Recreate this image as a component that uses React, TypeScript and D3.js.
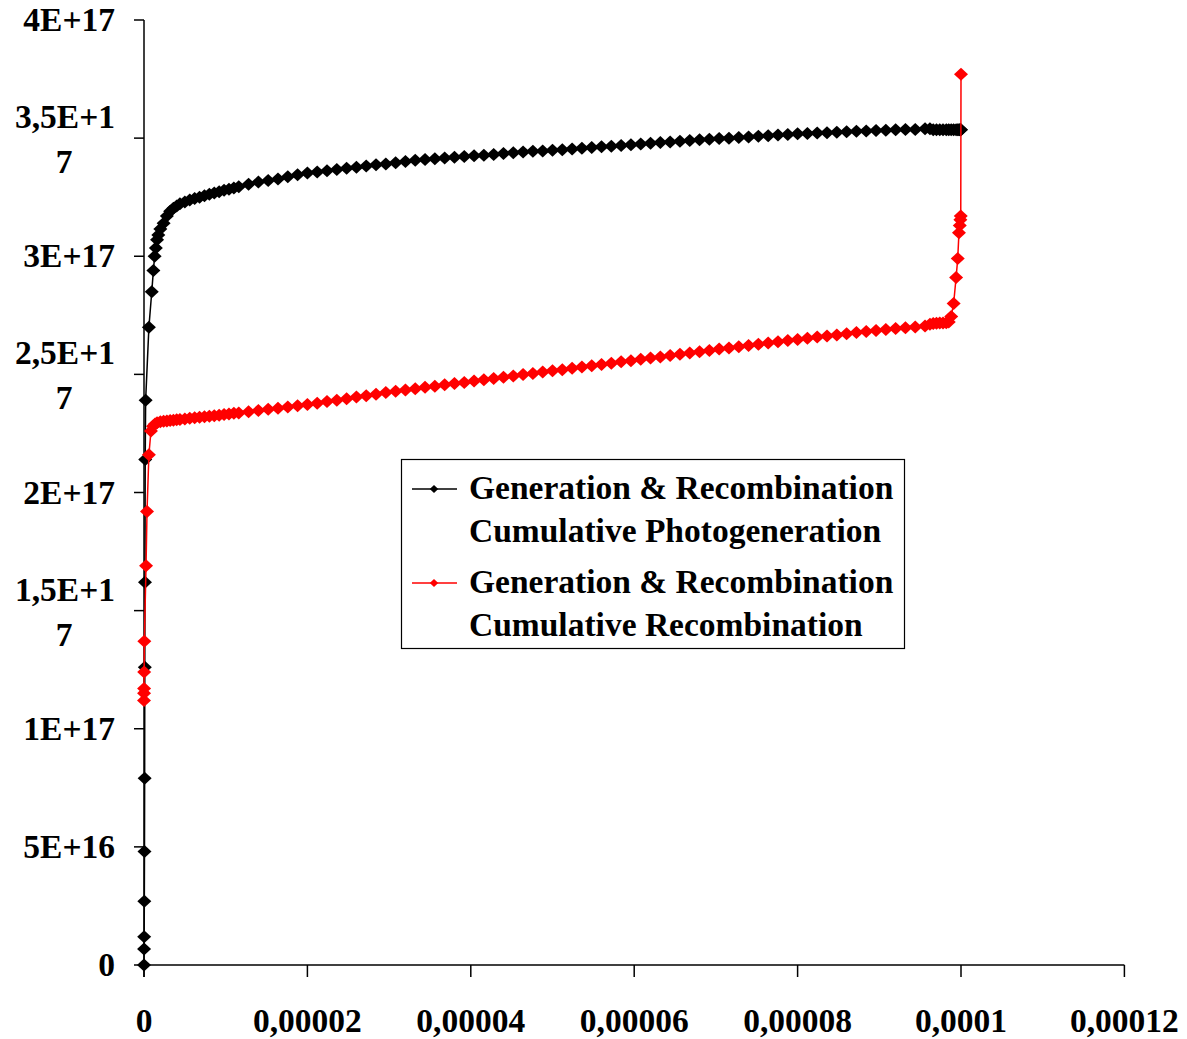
import React from "react";
import * as d3 from "d3";

// Depth positions (µm) and cumulative totals (×1e17)
const frontDepthPhoto = [0, 0.01, 0.02, 0.04, 0.06, 0.08, 0.1, 0.12, 0.15, 0.2, 0.6, 0.95, 1.15, 1.3, 1.45, 1.6, 1.75];
const frontPhoto = [0, 0.068, 0.12, 0.27, 0.48, 0.79, 1.26, 1.62, 2.14, 2.39, 2.7, 2.85, 2.94, 3.0, 3.035, 3.07, 3.09];

const frontDepthRecomb = [0, 0.005, 0.01, 0.02, 0.04, 0.25, 0.37, 0.6, 0.85, 1.1, 1.35, 1.6];
const frontRecomb = [1.12, 1.15, 1.17, 1.24, 1.37, 1.69, 1.92, 2.16, 2.26, 2.28, 2.29, 2.295];

const bulkDepth = [
  2.0, 2.4, 2.8, 3.2, 3.6, 4.0, 4.4, 5.0, 5.6, 6.2, 6.8, 7.4, 8.0, 8.6, 9.2, 9.8, 10.4, 11.0,
  11.6, 12.8, 14.0, 15.2, 16.4, 17.6, 18.8, 20.0,
  21.2, 22.4, 23.6, 24.8, 26.0, 27.2, 28.4, 29.6, 30.8, 32.0, 33.2, 34.4, 35.6, 36.8, 38.0,
  39.2, 40.4, 41.6, 42.8, 44.0, 45.2, 46.4, 47.6, 48.8, 50.0, 51.2, 52.4, 53.6, 54.8, 56.0,
  57.2, 58.4, 59.6, 60.8, 62.0, 63.2, 64.4, 65.6, 66.8, 68.0, 69.2, 70.4, 71.6, 72.8, 74.0,
  75.2, 76.4, 77.6, 78.8, 80.0, 81.2, 82.4, 83.6, 84.8, 86.0, 87.2, 88.4, 89.6, 90.8, 92.0,
  93.2, 94.4, 95.6,
];
const bulkPhoto = [
  3.115, 3.14, 3.17, 3.19, 3.203, 3.213, 3.222, 3.23, 3.238, 3.244, 3.25, 3.256, 3.262, 3.268, 3.273, 3.279, 3.284, 3.289,
  3.294, 3.305, 3.314, 3.321, 3.327, 3.336, 3.345, 3.352,
  3.357, 3.362, 3.367, 3.372, 3.377, 3.382, 3.387, 3.391, 3.396, 3.401, 3.406, 3.41, 3.413, 3.416, 3.419,
  3.422, 3.425, 3.428, 3.431, 3.435, 3.438, 3.441, 3.444, 3.446, 3.449, 3.451, 3.454, 3.457, 3.46, 3.463,
  3.466, 3.469, 3.472, 3.475, 3.478, 3.481, 3.484, 3.487, 3.49, 3.493, 3.495, 3.498, 3.5, 3.503, 3.505,
  3.508, 3.51, 3.513, 3.515, 3.518, 3.52, 3.522, 3.523, 3.525, 3.527, 3.529, 3.53, 3.532, 3.533, 3.535,
  3.536, 3.537, 3.54,
];
const bulkRecomb = [
  2.3, 2.302, 2.303, 2.305, 2.306, 2.308, 2.309, 2.311, 2.314, 2.316, 2.318, 2.321, 2.323, 2.325, 2.327, 2.33, 2.332, 2.335,
  2.337, 2.342, 2.347, 2.352, 2.357, 2.362, 2.367, 2.372,
  2.378, 2.385, 2.391, 2.397, 2.404, 2.41, 2.416, 2.423, 2.429, 2.434, 2.439, 2.445, 2.45, 2.456, 2.461,
  2.466, 2.472, 2.477, 2.483, 2.488, 2.493, 2.499, 2.504, 2.51, 2.515, 2.52, 2.526, 2.531, 2.537, 2.542,
  2.547, 2.553, 2.558, 2.564, 2.569, 2.574, 2.58, 2.585, 2.591, 2.596, 2.601, 2.607, 2.612, 2.617, 2.622,
  2.627, 2.633, 2.638, 2.643, 2.648, 2.653, 2.658, 2.662, 2.667, 2.672, 2.677, 2.682, 2.686, 2.69, 2.694,
  2.697, 2.701, 2.705,
];

const backDepth = [96.2, 96.6, 97.0, 97.4, 97.8, 98.2, 98.5, 98.8, 99.1, 99.4, 99.6, 99.75, 99.85, 99.92, 99.97, 100];
const backPhoto = [3.54, 3.535, 3.535, 3.535, 3.535, 3.535, 3.535, 3.535, 3.535, 3.535, 3.535, 3.535, 3.535, 3.535, 3.535, 3.535];
const backRecomb = [2.712, 2.715, 2.716, 2.717, 2.717, 2.718, 2.722, 2.745, 2.8, 2.91, 2.99, 3.1, 3.13, 3.155, 3.17, 3.77];

const xTickValues = [0, 0.00002, 0.00004, 0.00006, 0.00008, 0.0001, 0.00012];
const xTickLabels = ["0", "0,00002", "0,00004", "0,00006", "0,00008", "0,0001", "0,00012"];
const yTickValues = [0, 5e16, 1e17, 1.5e17, 2e17, 2.5e17, 3e17, 3.5e17, 4e17];
const yTickLabels = [["0"], ["5E+16"], ["1E+17"], ["1,5E+1", "7"], ["2E+17"], ["2,5E+1", "7"], ["3E+17"], ["3,5E+1", "7"], ["4E+17"]];

const seriesNames = [
  ["Generation & Recombination", "Cumulative Photogeneration"],
  ["Generation & Recombination", "Cumulative Recombination"],
];
const seriesColors = ["#000000", "#ff0000"];

type Pt = { x: number; y: number };
const toPoints = (depth: number[], vals: number[]): Pt[] =>
  depth.map((d, i) => ({ x: d * 1e-6, y: vals[i] * 1e17 }));

const photoPoints = toPoints(
  [...frontDepthPhoto, ...bulkDepth, ...backDepth],
  [...frontPhoto, ...bulkPhoto, ...backPhoto]
);
const recombPoints = toPoints(
  [...frontDepthRecomb, ...bulkDepth, ...backDepth],
  [...frontRecomb, ...bulkRecomb, ...backRecomb]
);

const W = 1187;
const H = 1039;
const x = d3.scaleLinear().domain([0, 0.00012]).range([144, 1124.4]);
const y = d3.scaleLinear().domain([0, 4e17]).range([965, 20]);

const FONT = "'Liberation Serif', 'Times New Roman', serif";
const FS = 33.5;
const diamond = "M0,-6.5 L7,0 L0,6.5 L-7,0 Z";
const smallDiamond = "M0,-4 L4.2,0 L0,4 L-4.2,0 Z";

export default function App() {
  const line = d3
    .line<Pt>()
    .x((d) => x(d.x))
    .y((d) => y(d.y));
  const series = [photoPoints, recombPoints];

  return (
    <svg
      width={W}
      height={H}
      style={{ position: "absolute", left: 0, top: 0, background: "#fff" }}
      fontFamily={FONT}
      fontWeight="bold"
    >
      <rect width={W} height={H} fill="#fff" />
      {/* axes */}
      <line x1={x(0)} x2={x(0)} y1={y(4e17)} y2={y(0) + 12} stroke="#000" strokeWidth={1.5} />
      <line x1={x(0)} x2={x(0.00012)} y1={y(0)} y2={y(0)} stroke="#000" strokeWidth={1.5} />
      {xTickValues.map((v, i) => (
        <g key={"xt" + i}>
          <line x1={x(v)} x2={x(v)} y1={y(0)} y2={y(0) + 12} stroke="#000" strokeWidth={1.5} />
          <text x={x(v)} y={1032} fontSize={FS} textAnchor="middle" fill="#000">
            {xTickLabels[i]}
          </text>
        </g>
      ))}
      {yTickValues.map((v, i) => {
        const lines = yTickLabels[i];
        return (
          <g key={"yt" + i}>
            <line x1={x(0) - 10} x2={x(0)} y1={y(v)} y2={y(v)} stroke="#000" strokeWidth={1.5} />
            {lines.length === 1 ? (
              <text x={115} y={y(v) + 11} fontSize={FS} textAnchor="end" fill="#000">
                {lines[0]}
              </text>
            ) : (
              <>
                <text x={115} y={y(v) - 10} fontSize={FS} textAnchor="end" fill="#000">
                  {lines[0]}
                </text>
                <text x={64} y={y(v) + 35} fontSize={FS} textAnchor="middle" fill="#000">
                  {lines[1]}
                </text>
              </>
            )}
          </g>
        );
      })}
      {/* series */}
      {series.map((pts, si) => (
        <g key={"s" + si}>
          <path d={line(pts) || ""} fill="none" stroke={seriesColors[si]} strokeWidth={1.5} />
          {pts.map((p, j) => (
            <path
              key={j}
              d={diamond}
              transform={`translate(${x(p.x)},${y(p.y)})`}
              fill={seriesColors[si]}
            />
          ))}
        </g>
      ))}
      {/* legend */}
      <rect x={401.5} y={459.5} width={503} height={189} fill="#fff" stroke="#000" strokeWidth={1.2} />
      {seriesNames.map((name, i) => {
        const ly = 489 + i * 94;
        return (
          <g key={"lg" + i}>
            <line x1={412} x2={457} y1={ly} y2={ly} stroke={seriesColors[i]} strokeWidth={1.5} />
            <path d={smallDiamond} transform={`translate(434,${ly})`} fill={seriesColors[i]} />
            <text x={469} y={ly + 10} fontSize={FS} fill="#000">
              {name[0]}
            </text>
            <text x={469} y={ly + 53} fontSize={FS} fill="#000">
              {name[1]}
            </text>
          </g>
        );
      })}
    </svg>
  );
}
